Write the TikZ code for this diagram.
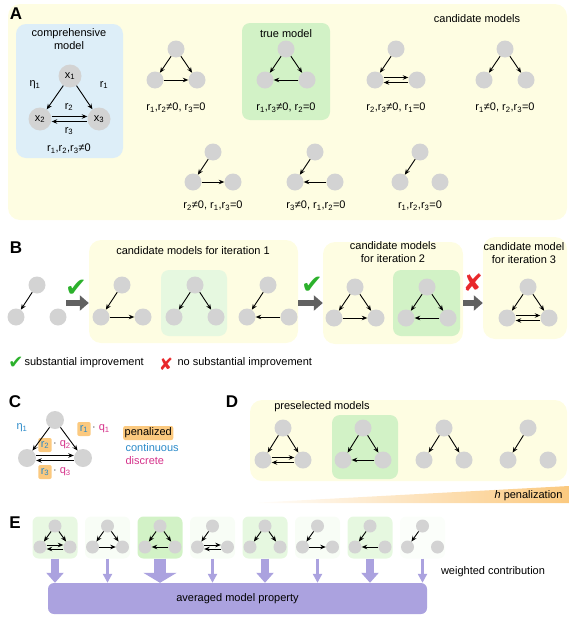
\documentclass[tikz,border=0pt]{standalone}
\usepackage{fontspec}
\setmainfont{Liberation Sans}
\newfontfamily\symfont{DejaVu Sans}
\usepackage{tikz}
\usetikzlibrary{arrows.meta}

\definecolor{paleyellow}{HTML}{FEFDE2}
\definecolor{paleblue}{HTML}{DDEEF8}
\definecolor{greenbg}{HTML}{D2F2C6}
\definecolor{dotgray}{HTML}{D3D3D3}
\definecolor{flow}{HTML}{ABA2DF}
\definecolor{penorange}{HTML}{FBC97F}
\definecolor{cblue}{HTML}{2B8AC9}
\definecolor{cpink}{HTML}{D5328A}
\definecolor{okgreen}{HTML}{2CB12C}
\definecolor{nored}{HTML}{E8282B}

\newcommand{\rsub}[1]{r\textsubscript{#1}}
% three nodes of one model: top, left, right
\newcommand{\trio}[6][dot]{%
  \node[#1] (#2-t) at (#3,#4) {};
  \node[#1] (#2-l) at ({#3-#5},{#4+#6}) {};
  \node[#1] (#2-r) at ({#3+#5},{#4+#6}) {};
}
% pair of opposite links
\newcommand{\swap}[3][2.5pt]{%
  \draw[link] ([yshift=#1]#2.east) -- ([yshift=#1]#3.west);
  \draw[link] ([yshift=-#1]#3.west) -- ([yshift=-#1]#2.east);
}

\tikzset{
  dot/.style={circle,fill=dotgray,inner sep=0pt,minimum size=17pt},
  bigdot/.style={circle,fill=dotgray,inner sep=0pt,minimum size=23pt},
  cdot/.style={circle,fill=dotgray,inner sep=0pt,minimum size=18pt},
  smalldot/.style={circle,fill=dotgray,inner sep=0pt,minimum size=13pt},
  link/.style={-{Stealth[length=5.5pt,width=4.5pt]},line width=0.9pt},
  panel/.style={fill=paleyellow,rounded corners=12pt,inner sep=0pt},
  bluebox/.style={fill=paleblue,rounded corners=10pt,inner sep=0pt},
  greenbox/.style={fill=greenbg,rounded corners=8pt,inner sep=0pt},
  ebox/.style={rounded corners=6pt,inner sep=0pt,minimum width=45pt,minimum height=42pt},
  letter/.style={font=\fontsize{17}{17}\selectfont\bfseries},
  pen/.style={fill=penorange,rounded corners=2pt,inner sep=2.5pt,minimum height=14pt,text=cblue},
  bigarrow/.style={draw=black!62,line width=5.5pt,-{Triangle[length=9pt,width=15pt]}},
  thinflow/.style={draw=flow,line width=3pt,-{Triangle[length=9pt,width=9pt]}},
  midflow/.style={draw=flow,line width=8.5pt,-{Triangle[length=10pt,width=17pt]}},
  thickflow/.style={draw=flow,line width=12.5pt,-{Triangle[length=10pt,width=33pt]}},
}

\begin{document}
\begin{tikzpicture}[x=1pt,y=-1pt,font=\fontsize{11}{13}\selectfont]
  \useasboundingbox (0,0) rectangle (569,624);

  % A
  \node[panel,minimum width=559pt,minimum height=216pt] (bgA) at (287.5,112) {};
  \node[letter] at (16,14) {A};
  \node[bluebox,minimum width=107pt,minimum height=134pt] (comp) at (69.5,91) {};
  \node[greenbox,minimum width=88pt,minimum height=97pt] (truebox) at (286,71.5) {};
  \node[align=center] at (69,39.5) {comprehensive\\model};
  \node at (286,34) {true model};
  \node at (477,19) {candidate models};

  \node[bigdot] (cm-t) at (70,76) {x\textsubscript{1}};
  \node[bigdot] (cm-l) at (40,119) {x\textsubscript{2}};
  \node[bigdot] (cm-r) at (99,119) {x\textsubscript{3}};
  \node at (35,85) {η\textsubscript{1}};
  \node at (104,85) {\rsub1};
  \node at (69,107) {\rsub2};
  \node at (69,131) {\rsub3};
  \node at (69,149) {\rsub1,\rsub2,\rsub3≠0};

  \trio{a1}{176}{49}{21}{31}
  \trio{a2}{286}{49}{21}{31}
  \trio{a3}{396}{49}{21}{31}
  \trio{a4}{505}{49}{21}{31}
  \trio{a5}{213}{152}{20}{30}
  \trio{a6}{315}{152}{20}{30}
  \trio{a7}{420}{152}{20}{30}
  \node at (176,108) {\rsub1,\rsub2≠0, \rsub3=0};
  \node at (286,108) {\rsub1,\rsub3≠0, \rsub2=0};
  \node at (396,108) {\rsub2,\rsub3≠0, \rsub1=0};
  \node at (505,108) {\rsub1≠0, \rsub2,\rsub3=0};
  \node at (213,206) {\rsub2≠0, \rsub1,\rsub3=0};
  \node at (316,206) {\rsub3≠0, \rsub1,\rsub2=0};
  \node at (420,206) {\rsub1,\rsub2,\rsub3=0};

  % B
  \node[letter] at (16,248) {B};
  \node[panel,minimum width=209pt,minimum height=103pt] (it1) at (193.5,291.5) {};
  \node[greenbox,fill=greenbg!55!white,minimum width=66pt,minimum height=66pt] (pick1) at (194,303) {};
  \node[panel,minimum width=140pt,minimum height=102pt] (it2) at (393,293) {};
  \node[greenbox,minimum width=67pt,minimum height=66pt] (pick2) at (426.5,303) {};
  \node[panel,minimum width=84pt,minimum height=102pt] (it3) at (525,288) {};
  \node at (193,251) {candidate models for iteration 1};
  \node[align=center] at (393,252.5) {candidate models\\for iteration 2};
  \node[align=center] at (524,253.5) {candidate model\\for iteration 3};

  \trio{b0}{37}{285}{21}{32}
  \trio{b1}{122}{285}{21}{32}
  \trio{b2}{195}{285}{21}{32}
  \trio{b3}{268}{285}{21}{32}
  \trio{b4}{355}{287}{21}{31}
  \trio{b5}{427}{287}{21}{31}
  \trio{b6}{528}{287}{21}{31}

  \coordinate (s0) at (66,303);
  \draw[bigarrow] (s0) -- (it1.west |- s0);
  \draw[bigarrow] (it1.east |- s0) -- (it2.west |- s0);
  \draw[bigarrow] (it2.east |- s0) -- (it3.west |- s0);
  \node[text=okgreen,font=\symfont\fontsize{26}{26}\selectfont] at (76,288) {✔};
  \node[text=okgreen,font=\symfont\fontsize{26}{26}\selectfont] at (312,285) {✔};
  \node[text=nored,font=\symfont\fontsize{24}{24}\selectfont] at (473,283) {✘};

  \node[text=okgreen,font=\symfont\fontsize{18}{18}\selectfont] at (16,363) {✔};
  \node[anchor=west] at (21,363) {substantial improvement};
  \node[text=nored,font=\symfont\fontsize{17}{17}\selectfont] at (166,364) {✘};
  \node[anchor=west] at (174,363) {no substantial improvement};

  % C
  \node[letter] at (15,402) {C};
  \trio[cdot]{c}{55}{420}{28}{38}
  \node[text=cblue] at (22,428) {η\textsubscript{1}};
  \node[pen] (pr1) at (84,429) {\rsub1};
  \node[pen] (pr2) at (45,445) {\rsub2};
  \node[pen] (pr3) at (45,472) {\rsub3};
  \node[anchor=west,inner sep=1pt,text=cpink] at (pr1.east) {{\color{black!70}·} q\textsubscript{1}};
  \node[anchor=west,inner sep=1pt,text=cpink] at (pr2.east) {{\color{black!70}·} q\textsubscript{2}};
  \node[anchor=west,inner sep=1pt,text=cpink] at (pr3.east) {{\color{black!70}·} q\textsubscript{3}};
  \node[pen,anchor=west,text=black,inner sep=1.5pt] at (123,433) {penalized};
  \node[anchor=west,text=cblue] at (122,448) {continuous};
  \node[anchor=west,text=cpink] at (122,461) {discrete};

  % D
  \node[letter] at (232,402) {D};
  \node[panel,minimum width=317pt,minimum height=81pt] (bgD) at (408.5,440.5) {};
  \node[greenbox,minimum width=66pt,minimum height=64pt] (pickD) at (365,447) {};
  \node at (322,407) {preselected models};
  \trio{d1}{283}{428}{20}{32}
  \trio{d2}{363}{428}{20}{32}
  \trio{d3}{444}{428}{20}{32}
  \trio{d4}{528}{428}{20}{32}
  \shade[left color=white,right color=penorange] (250,503) -- (569,486) -- (569,503) -- cycle;
  \node[anchor=east] at (566,496) {\textit{h} penalization};

  % E
  \node[letter] at (15,523) {E};
  \foreach \i/\s in {1/50,2/15,3/100,4/15,5/55,6/15,7/55,8/8}
    \node[ebox,fill=greenbg!\s!white] (box\i) at ({2.5+52.5*\i},537.5) {};
  \foreach \i in {1,...,8}
    {\trio[smalldot]{e\i}{2.5+52.5*\i}{526}{15}{21}}
  \node[fill=flow,rounded corners=6pt,minimum width=379pt,minimum height=31pt] (avg) at (237.5,598.5) {averaged model property};
  \foreach \i/\w in {1/midflow,2/thinflow,3/thickflow,4/thinflow,5/midflow,6/thinflow,7/midflow,8/thinflow}
    \draw[\w] (box\i.south) -- (box\i.south |- avg.north);
  \node at (493,572) {weighted contribution};

  % links
  \foreach \m in {a1,a2,a3,a4,a5,a6,a7,cm,b0,b1,b2,b3,b4,b5,b6,c,d1,d2,d3,d4,e1,e2,e3,e4,e5,e6,e7,e8}
    \draw[link] (\m-t) -- (\m-l);
  \foreach \m in {a1,a2,a4,cm,b2,b4,b5,b6,c,d1,d2,d3,e1,e2,e3,e5}
    \draw[link] (\m-t) -- (\m-r);
  \foreach \m in {a1,a5,b1,b4,e2,e6}
    \draw[link] (\m-l) -- (\m-r);
  \foreach \m in {a2,a6,b3,b5,d2,e3,e7}
    \draw[link] (\m-r) -- (\m-l);
  \foreach \m in {a3,cm,b6,c,d1}
    {\swap{\m-l}{\m-r}}
  \foreach \m in {e1,e4}
    {\swap[2pt]{\m-l}{\m-r}}
\end{tikzpicture}
\end{document}
